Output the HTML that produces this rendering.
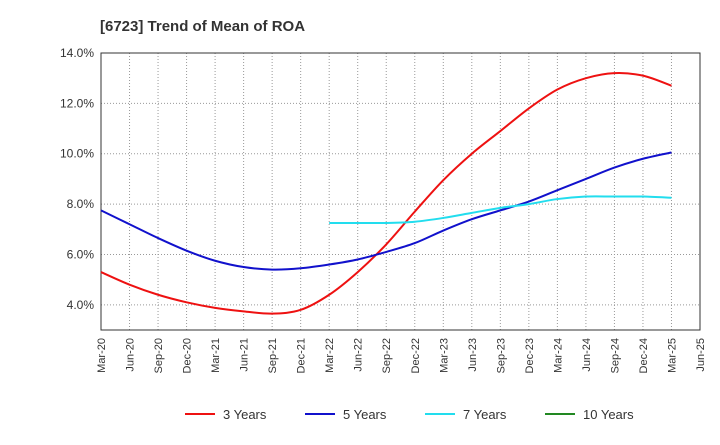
<!DOCTYPE html>
<html><head><meta charset="utf-8"><style>
body{margin:0;background:#fff;font-family:"Liberation Sans",sans-serif}
</style></head><body>
<svg width="720" height="440" xmlns="http://www.w3.org/2000/svg">
<text x="100" y="31" font-size="15" font-weight="bold" fill="#333">[6723]  Trend of Mean of ROA</text>
<g id="grid"></g><g id="axes"></g><g id="series"></g><g id="legend"></g>
</svg>
<script>
const xLabels=["Mar-20","Jun-20","Sep-20","Dec-20","Mar-21","Jun-21","Sep-21","Dec-21","Mar-22","Jun-22","Sep-22","Dec-22","Mar-23","Jun-23","Sep-23","Dec-23","Mar-24","Jun-24","Sep-24","Dec-24","Mar-25","Jun-25"];
const yTicks=[4,6,8,10,12,14];
const s3=[5.3,4.8,4.4,4.1,3.88,3.74,3.65,3.8,4.4,5.3,6.4,7.7,8.95,10.0,10.9,11.8,12.55,13.0,13.2,13.1,12.7];
const s5=[7.75,7.2,6.65,6.15,5.75,5.5,5.4,5.45,5.6,5.8,6.1,6.45,6.95,7.4,7.75,8.1,8.55,9.0,9.45,9.8,10.05];
const s7=[null,null,null,null,null,null,null,null,7.25,7.25,7.25,7.3,7.45,7.65,7.85,8.0,8.2,8.3,8.3,8.3,8.25];
const s10=[];
const L=101,R=700,T=53,B=330,yMin=3,yMax=14;
const xs=i=>L+i*(R-L)/(xLabels.length-1);
const ys=v=>B-(v-yMin)/(yMax-yMin)*(B-T);
const NS="http://www.w3.org/2000/svg";
function mk(t,a,p){const e=document.createElementNS(NS,t);for(const k in a)e.setAttribute(k,a[k]);p.appendChild(e);return e;}
const g=document.getElementById('grid'),ax=document.getElementById('axes'),se=document.getElementById('series'),lg=document.getElementById('legend');
xLabels.forEach((l,i)=>{
 const x=xs(i);
 if(i>0&&i<xLabels.length-1){const ln=mk('line',{x1:x,x2:x,y1:T,y2:B,stroke:'#999','stroke-dasharray':'1,2','stroke-width':1},g);
 
 }
 const t=mk('text',{x:x+4,y:B+8,'font-size':11,fill:'#333','text-anchor':'end',transform:`rotate(-90 ${x+4} ${B+8})`},ax);
 t.textContent=l;
 
 
});
yTicks.forEach(v=>{
 const y=ys(v);
 const ln=mk('line',{x1:L,x2:R,y1:y,y2:y,stroke:'#999','stroke-dasharray':'1,2','stroke-width':1},g);
 
 
 const t=mk('text',{x:L-7,y:y+4,'font-size':12,fill:'#333','text-anchor':'end'},ax);
 t.textContent=v.toFixed(1)+'%';
 
 
});
const fr=mk('rect',{x:L,y:T,width:R-L,height:B-T,fill:'none',stroke:'#333','stroke-width':1},ax);


function path(arr){
 const p=[];arr.forEach((v,i)=>{if(v!=null)p.push([xs(i),ys(v)]);});
 if(p.length<2)return '';
 let d=`M${p[0][0]},${p[0][1]}`;
 for(let i=0;i<p.length-1;i++){
  const p0=p[i-1]||p[i],p1=p[i],p2=p[i+1],p3=p[i+2]||p2;
  const c1=[p1[0]+(p2[0]-p0[0])/6,p1[1]+(p2[1]-p0[1])/6],c2=[p2[0]-(p3[0]-p1[0])/6,p2[1]-(p3[1]-p1[1])/6];
  d+=`C${c1[0]},${c1[1]} ${c2[0]},${c2[1]} ${p2[0]},${p2[1]}`;
 }
 return d;
}
const series=[["3 Years",s3,"#ee1111"],["5 Years",s5,"#1111cc"],["7 Years",s7,"#22ddee"],["10 Years",s10,"#228822"]];
const lx=[185,305,425,545];
series.forEach((s,k)=>{
 const d=path(s[1]);
 if(d){const pe=mk('path',{d:d,fill:'none',stroke:s[2],'stroke-width':2},se);
 
 }
 const ll=mk('line',{x1:lx[k],x2:lx[k]+30,y1:414,y2:414,stroke:s[2],'stroke-width':2},lg);
 
 
 const t=mk('text',{x:lx[k]+38,y:419,'font-size':13,fill:'#333'},lg);
 t.textContent=s[0];
 
 
});
</script>
</body></html>
